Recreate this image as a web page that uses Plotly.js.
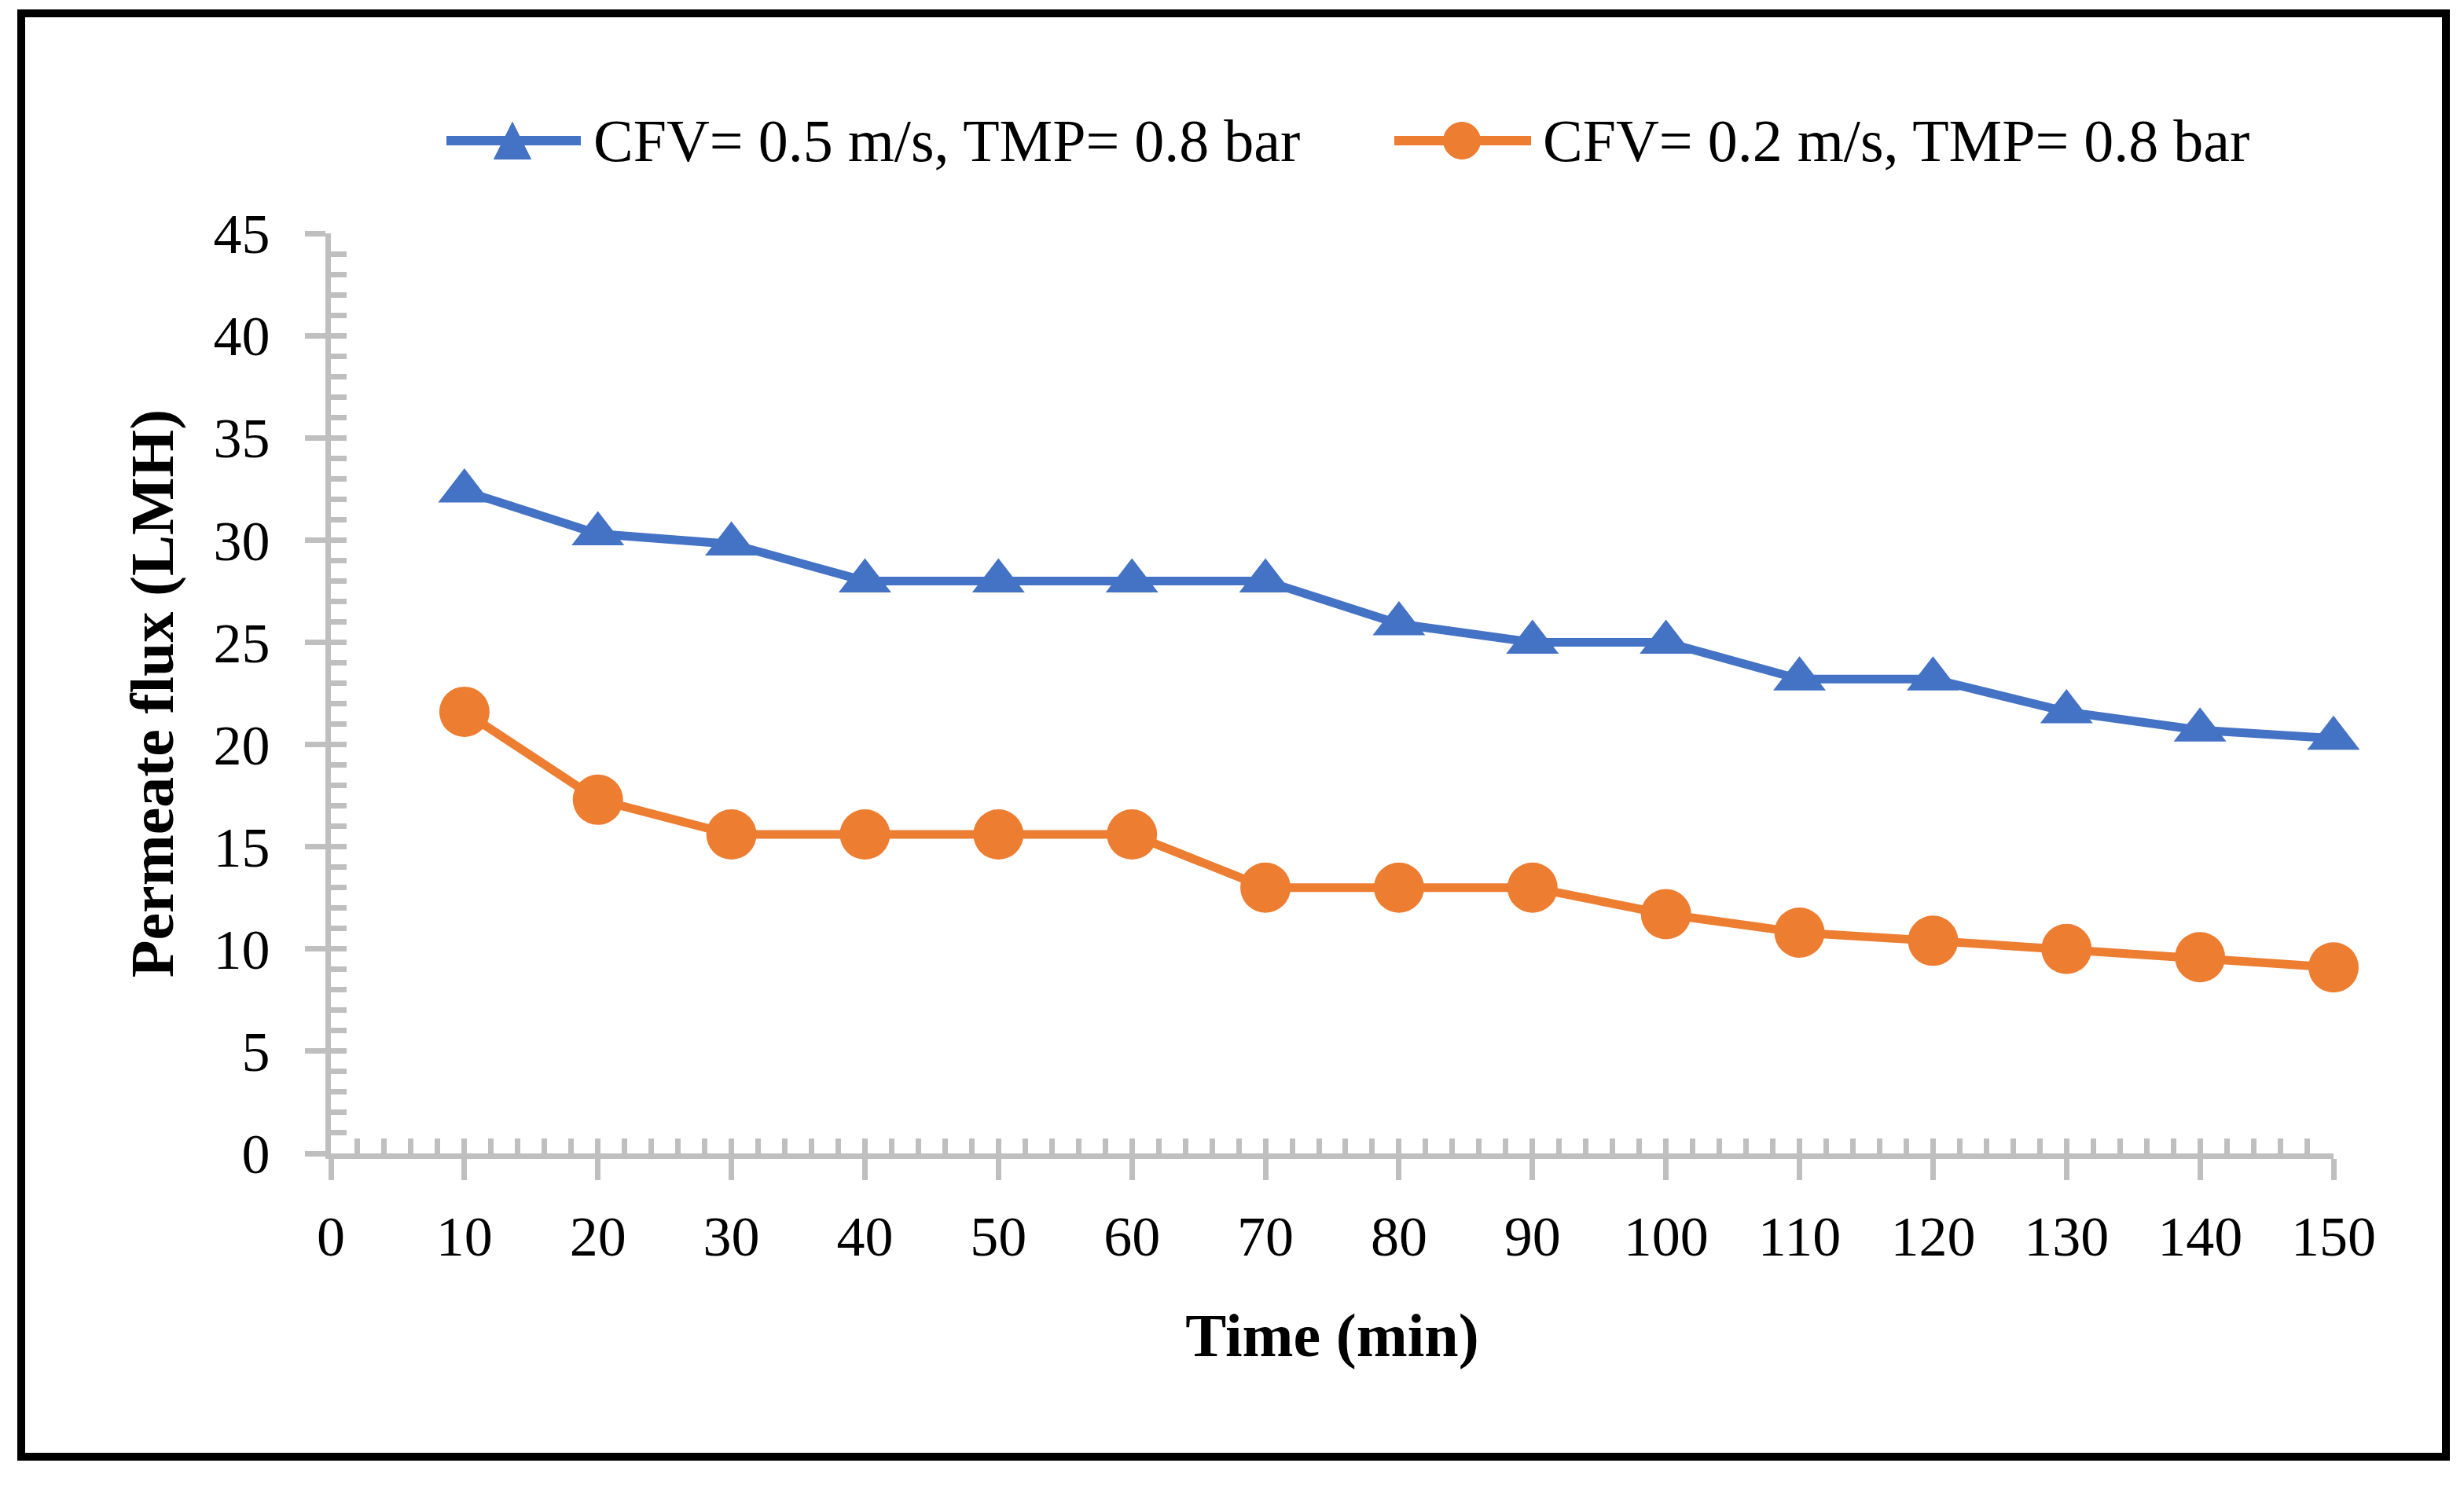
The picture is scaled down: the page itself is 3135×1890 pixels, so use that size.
<!DOCTYPE html>
<html>
<head>
<meta charset="utf-8">
<script src="https://cdn.plot.ly/plotly-3.0.1.min.js"></script>
<style>
  html, body { margin: 0; padding: 0; background: #ffffff; }
  #chart { width: 3135px; height: 1890px; }
</style>
</head>
<body>
<div id="chart"></div>
<script>
// ---- data ----
const timeMin = [10, 20, 30, 40, 50, 60, 70, 80, 90, 100, 110, 120, 130, 140, 150];
const fluxCfv05 = [32.4, 30.3, 29.8, 28.0, 28.0, 28.0, 28.0, 25.9, 25.0, 25.0, 23.2, 23.2, 21.6, 20.7, 20.3];
const fluxCfv02 = [21.6, 17.3, 15.6, 15.6, 15.6, 15.6, 13.0, 13.0, 13.0, 11.7, 10.8, 10.4, 10.0, 9.6, 9.1];
const seriesNames = ['CFV= 0.5 m/s, TMP= 0.8 bar', 'CFV= 0.2 m/s, TMP= 0.8 bar'];
const xTitle = 'Time (min)';
const yTitle = 'Permeate flux (LMH)';

// ---- styling ----
const W = 3135, H = 1890;
const L = 421, R = 2969, T = 297, B = 1468;
const PW = R - L, PH = B - T;
const blue = '#4472C4', orange = '#ED7D31', grey = '#BFBFBF';
const FONT = 'Liberation Serif, Times New Roman, serif';

function px(x) { return (x - L) / PW; }
function py(y) { return (B - y) / PH; }

const traces = [
  {
    x: timeMin, y: fluxCfv05, name: seriesNames[0], type: 'scatter', mode: 'lines+markers',
    line: { color: blue, width: 11 },
    marker: { symbol: 'triangle-up', size: 58, color: blue },
    cliponaxis: false
  },
  {
    x: timeMin, y: fluxCfv02, name: seriesNames[1], type: 'scatter', mode: 'lines+markers',
    line: { color: orange, width: 11 },
    marker: { symbol: 'circle', size: 64, color: orange },
    cliponaxis: false
  },
  // empty helper traces so the tick-only overlay axes get drawn
  { x: [null], y: [null], xaxis: 'x2', yaxis: 'y', type: 'scatter', mode: 'markers', showlegend: false, hoverinfo: 'skip' },
  { x: [null], y: [null], xaxis: 'x', yaxis: 'y2', type: 'scatter', mode: 'markers', showlegend: false, hoverinfo: 'skip' }
];

// custom legend
const legY = 179;
const tri = { cx: 652, w: 47, h: 47 };
const triPath = 'M ' + px(tri.cx - tri.w / 2) + ' ' + py(legY + tri.h / 2) +
  ' L ' + px(tri.cx + tri.w / 2) + ' ' + py(legY + tri.h / 2) +
  ' L ' + px(tri.cx) + ' ' + py(legY - tri.h / 2) + ' Z';

const shapes = [
  { type: 'rect', xref: 'paper', yref: 'paper', x0: px(27), x1: px(3112), y0: py(17), y1: py(1854),
    line: { color: '#000000', width: 10 }, fillcolor: 'rgba(0,0,0,0)', layer: 'above' },
  { type: 'line', xref: 'paper', yref: 'paper', x0: px(568), x1: px(739), y0: py(legY), y1: py(legY),
    line: { color: blue, width: 12 } },
  { type: 'path', xref: 'paper', yref: 'paper', path: triPath, fillcolor: blue, line: { color: blue, width: 1 } },
  { type: 'line', xref: 'paper', yref: 'paper', x0: px(1774), x1: px(1948), y0: py(legY), y1: py(legY),
    line: { color: orange, width: 12 } },
  { type: 'circle', xref: 'paper', yref: 'paper', x0: px(1860 - 23.5), x1: px(1860 + 23.5),
    y0: py(legY + 23.5), y1: py(legY - 23.5), fillcolor: orange, line: { color: orange, width: 1 } }
];

const annotations = [
  { xref: 'paper', yref: 'paper', x: px(753), y: py(legY), xanchor: 'left', yanchor: 'middle',
    text: seriesNames[0], showarrow: false, font: { family: FONT, size: 76, color: '#000' } },
  { xref: 'paper', yref: 'paper', x: px(1961), y: py(legY), xanchor: 'left', yanchor: 'middle',
    text: seriesNames[1], showarrow: false, font: { family: FONT, size: 76, color: '#000' } }
];

const layout = {
  width: W, height: H,
  margin: { l: L, r: W - R, t: T, b: H - B, pad: 0 },
  paper_bgcolor: '#ffffff', plot_bgcolor: '#ffffff',
  showlegend: false,
  font: { family: FONT, color: '#000000', size: 72 },
  xaxis: {
    range: [0, 150], tick0: 0, dtick: 10, autorange: false,
    showline: true, linecolor: grey, linewidth: 7,
    ticks: 'outside', ticklen: 27, tickwidth: 7, tickcolor: grey,
    ticklabelstandoff: 10,
    tickfont: { family: FONT, size: 72, color: '#000' },
    showgrid: false, zeroline: false,
    title: { text: '<b>' + xTitle + '</b>', font: { family: FONT, size: 78, color: '#000' }, standoff: 60 },
    automargin: false
  },
  xaxis2: {
    overlaying: 'x', anchor: 'y', side: 'bottom', range: [0, 150], tick0: 0, dtick: 2, autorange: false,
    ticks: 'inside', ticklen: 19, tickwidth: 7, tickcolor: grey,
    showticklabels: false, showline: false, showgrid: false, zeroline: false, automargin: false
  },
  yaxis: {
    range: [0, 45], tick0: 0, dtick: 5, autorange: false,
    showline: true, linecolor: grey, linewidth: 7,
    ticks: 'outside', ticklen: 26, tickwidth: 7, tickcolor: grey,
    ticklabelstandoff: 30,
    tickfont: { family: FONT, size: 72, color: '#000' },
    showgrid: false, zeroline: false,
    title: { text: '<b>' + yTitle + '</b>', font: { family: FONT, size: 78, color: '#000' }, standoff: 28 },
    automargin: false
  },
  yaxis2: {
    overlaying: 'y', anchor: 'x', side: 'left', range: [0, 45], tick0: 0, dtick: 1, autorange: false,
    ticks: 'inside', ticklen: 20, tickwidth: 7, tickcolor: grey,
    showticklabels: false, showline: false, showgrid: false, zeroline: false, automargin: false
  },
  shapes: shapes,
  annotations: annotations
};

Plotly.newPlot('chart', traces, layout, { staticPlot: true, displayModeBar: false });
</script>
</body>
</html>
